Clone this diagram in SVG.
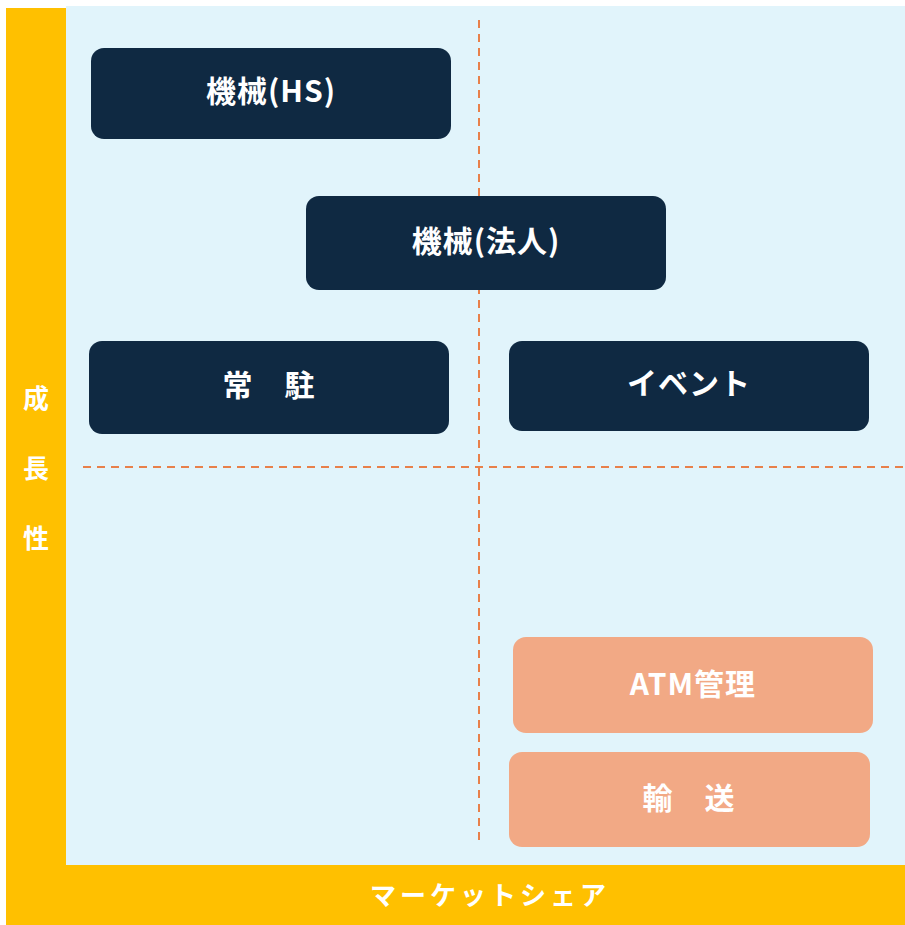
<svg xmlns="http://www.w3.org/2000/svg" width="905" height="925" viewBox="0 0 905 925">
<style>
.dark{fill:#0F2942}
.sal{fill:#F2A985}
.t{fill:#fff;font-family:"Noto Sans CJK JP","Noto Sans",sans-serif;font-weight:bold;font-size:30px;text-anchor:middle;dominant-baseline:central;letter-spacing:1px}
.ax{fill:#fff;font-family:"Noto Sans CJK JP","Noto Sans",sans-serif;font-weight:bold;font-size:26px;text-anchor:middle;dominant-baseline:central}
.dash{stroke:#E8804A;stroke-width:2;stroke-dasharray:8 6;fill:none}
</style>
<rect width="905" height="925" fill="#fff"/>
<rect x="66" y="6" width="839" height="859" fill="#E1F4FB"/>
<rect x="6" y="8" width="60" height="917" fill="#FFC000"/>
<rect x="6" y="865" width="899" height="60" fill="#FFC000"/>
<g id="axis-y">
<text class="ax" x="36" y="396">成</text>
<text class="ax" x="36" y="466">長</text>
<text class="ax" x="36" y="536">性</text>
</g>
<g id="axis-x">
<text class="ax" x="490" y="893" letter-spacing="4">マーケットシェア</text>
</g>
<g id="connectors">
<line class="dash" x1="479" y1="20" x2="479" y2="840"/>
<line class="dash" x1="83" y1="467" x2="905" y2="467"/>
</g>
<g id="n1"><rect class="dark" x="91" y="48" width="360" height="91" rx="13"/><text class="t" x="271" y="89">機械(HS)</text></g>
<g id="n2"><rect class="dark" x="306" y="196" width="360" height="94" rx="13"/><text class="t" x="486" y="239">機械(法人)</text></g>
<g id="n3"><rect class="dark" x="89" y="341" width="360" height="93" rx="13"/><text class="t" x="269" y="383" letter-spacing="4">常　駐</text></g>
<g id="n4"><rect class="dark" x="509" y="341" width="360" height="90" rx="13"/><text class="t" x="689" y="381">イベント</text></g>
<g id="n5"><rect class="sal" x="513" y="637" width="360" height="96" rx="13"/><text class="t" x="693" y="682">ATM管理</text></g>
<g id="n6"><rect class="sal" x="509" y="752" width="361" height="95" rx="13"/><text class="t" x="689" y="796" letter-spacing="4">輸　送</text></g>
</svg>
